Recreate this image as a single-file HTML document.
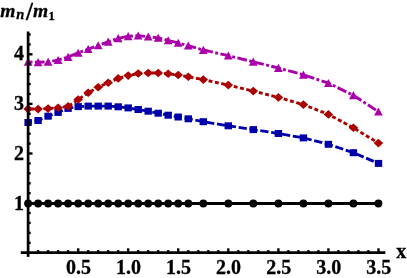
<!DOCTYPE html>
<html><head><meta charset="utf-8"><style>
html,body{margin:0;padding:0;background:#fff;}
body{width:407px;height:278px;overflow:hidden;position:relative;font-family:"Liberation Serif",serif;}
svg{position:absolute;left:0;top:0;will-change:transform;}
text{font-family:"Liberation Serif",serif;font-weight:bold;fill:#000;stroke:#000;stroke-width:0.3px;}
</style></head><body>
<svg width="407" height="278" viewBox="0 0 407 278">
<text x="78.5" y="273.6" font-size="20" text-anchor="middle">0.5</text>
<text x="128.5" y="273.6" font-size="20" text-anchor="middle">1.0</text>
<text x="178.5" y="273.6" font-size="20" text-anchor="middle">1.5</text>
<text x="228.6" y="273.6" font-size="20" text-anchor="middle">2.0</text>
<text x="278.7" y="273.6" font-size="20" text-anchor="middle">2.5</text>
<text x="328.7" y="273.6" font-size="20" text-anchor="middle">3.0</text>
<text x="378.8" y="273.6" font-size="20" text-anchor="middle">3.5</text>
<text x="23.9" y="209.5" font-size="20" text-anchor="end">1</text>
<text x="23.9" y="160.1" font-size="20" text-anchor="end">2</text>
<text x="23.9" y="109.8" font-size="20" text-anchor="end">3</text>
<text x="23.9" y="60.3" font-size="20" text-anchor="end">4</text>
<text x="396.3" y="257.6" font-size="20">x</text>
<text x="0.3" y="16.9" font-size="19.5" font-style="italic">m</text><text x="16.2" y="19.3" font-size="14.5" font-style="italic">n</text><text x="26.0" y="19.9" font-size="25">/</text><text x="33" y="16.9" font-size="19.5" font-style="italic">m</text><text x="48.6" y="19.5" font-size="12.5">1</text>
<path d="M28.1,203.5 L38.1,203.5 L48.1,203.5 L58.1,203.5 L68.1,203.5 L78.2,203.5 L88.2,203.5 L98.2,203.5 L108.2,203.5 L118.2,203.5 L128.2,203.5 L138.2,203.5 L148.2,203.5 L158.2,203.5 L168.2,203.5 L178.2,203.5 L188.3,203.5 L203.3,203.5 L228.3,203.5 L253.3,203.5 L278.4,203.5 L303.4,203.5 L328.4,203.5 L353.4,203.5 L378.4,203.5" stroke="#000" stroke-width="2.9" fill="none"/>
<circle cx="28.1" cy="203.5" r="3.95" fill="#000"/>
<circle cx="38.1" cy="203.5" r="3.95" fill="#000"/>
<circle cx="48.1" cy="203.5" r="3.95" fill="#000"/>
<circle cx="58.1" cy="203.5" r="3.95" fill="#000"/>
<circle cx="68.1" cy="203.5" r="3.95" fill="#000"/>
<circle cx="78.2" cy="203.5" r="3.95" fill="#000"/>
<circle cx="88.2" cy="203.5" r="3.95" fill="#000"/>
<circle cx="98.2" cy="203.5" r="3.95" fill="#000"/>
<circle cx="108.2" cy="203.5" r="3.95" fill="#000"/>
<circle cx="118.2" cy="203.5" r="3.95" fill="#000"/>
<circle cx="128.2" cy="203.5" r="3.95" fill="#000"/>
<circle cx="138.2" cy="203.5" r="3.95" fill="#000"/>
<circle cx="148.2" cy="203.5" r="3.95" fill="#000"/>
<circle cx="158.2" cy="203.5" r="3.95" fill="#000"/>
<circle cx="168.2" cy="203.5" r="3.95" fill="#000"/>
<circle cx="178.2" cy="203.5" r="3.95" fill="#000"/>
<circle cx="188.3" cy="203.5" r="3.95" fill="#000"/>
<circle cx="203.3" cy="203.5" r="3.95" fill="#000"/>
<circle cx="228.3" cy="203.5" r="3.95" fill="#000"/>
<circle cx="253.3" cy="203.5" r="3.95" fill="#000"/>
<circle cx="278.4" cy="203.5" r="3.95" fill="#000"/>
<circle cx="303.4" cy="203.5" r="3.95" fill="#000"/>
<circle cx="328.4" cy="203.5" r="3.95" fill="#000"/>
<circle cx="353.4" cy="203.5" r="3.95" fill="#000"/>
<circle cx="378.4" cy="203.5" r="3.95" fill="#000"/>
<path d="M28.1,122.5 L38.1,120.5 L48.1,116.2 L58.1,112.4 L68.1,108.4 L78.2,106.6 L88.2,106.1 L98.2,106.1 L108.2,106.1 L118.2,106.8 L128.2,107.9 L138.2,109.5 L148.2,111.2 L158.2,113.2 L168.2,115.2 L178.2,117.0 L188.3,118.8 L203.3,121.7 L228.3,125.8 L253.3,129.6 L278.4,133.5 L303.4,137.9 L328.4,144.3 L353.4,152.7 L378.4,163.4" stroke="#0000aa" stroke-width="2.8" fill="none" stroke-dasharray="8.3,2.67" stroke-dashoffset="4.35"/>
<rect x="24.4" y="119.0" width="7.4" height="7.0" fill="#0000aa"/>
<rect x="34.4" y="117.0" width="7.4" height="7.0" fill="#0000aa"/>
<rect x="44.4" y="112.7" width="7.4" height="7.0" fill="#0000aa"/>
<rect x="54.4" y="108.9" width="7.4" height="7.0" fill="#0000aa"/>
<rect x="64.4" y="104.9" width="7.4" height="7.0" fill="#0000aa"/>
<rect x="74.5" y="103.1" width="7.4" height="7.0" fill="#0000aa"/>
<rect x="84.5" y="102.6" width="7.4" height="7.0" fill="#0000aa"/>
<rect x="94.5" y="102.6" width="7.4" height="7.0" fill="#0000aa"/>
<rect x="104.5" y="102.6" width="7.4" height="7.0" fill="#0000aa"/>
<rect x="114.5" y="103.3" width="7.4" height="7.0" fill="#0000aa"/>
<rect x="124.5" y="104.4" width="7.4" height="7.0" fill="#0000aa"/>
<rect x="134.5" y="106.0" width="7.4" height="7.0" fill="#0000aa"/>
<rect x="144.5" y="107.7" width="7.4" height="7.0" fill="#0000aa"/>
<rect x="154.5" y="109.7" width="7.4" height="7.0" fill="#0000aa"/>
<rect x="164.5" y="111.7" width="7.4" height="7.0" fill="#0000aa"/>
<rect x="174.5" y="113.5" width="7.4" height="7.0" fill="#0000aa"/>
<rect x="184.6" y="115.3" width="7.4" height="7.0" fill="#0000aa"/>
<rect x="199.6" y="118.2" width="7.4" height="7.0" fill="#0000aa"/>
<rect x="224.6" y="122.3" width="7.4" height="7.0" fill="#0000aa"/>
<rect x="249.6" y="126.1" width="7.4" height="7.0" fill="#0000aa"/>
<rect x="274.7" y="130.0" width="7.4" height="7.0" fill="#0000aa"/>
<rect x="299.7" y="134.4" width="7.4" height="7.0" fill="#0000aa"/>
<rect x="324.7" y="140.8" width="7.4" height="7.0" fill="#0000aa"/>
<rect x="349.7" y="149.2" width="7.4" height="7.0" fill="#0000aa"/>
<rect x="374.8" y="159.9" width="7.4" height="7.0" fill="#0000aa"/>
<path d="M28.1,108.9 L38.1,109.1 L48.1,108.6 L58.1,107.8 L68.1,106.4 L78.2,99.5 L88.2,92.7 L98.2,87.2 L108.2,82.7 L118.2,78.4 L128.2,75.6 L138.2,73.5 L148.2,73.0 L158.2,73.0 L168.2,73.8 L178.2,75.0 L188.3,76.8 L203.3,79.6 L228.3,85.1 L253.3,91.1 L278.4,97.4 L303.4,104.6 L328.4,114.4 L353.4,127.8 L378.4,143.1" stroke="#aa0000" stroke-width="2.9" fill="none" stroke-dasharray="3.9,2.55" stroke-dashoffset="4.1"/>
<path d="M23.3,108.9 L28.1,104.6 L32.9,108.9 L28.1,113.2Z" fill="#aa0000"/>
<path d="M33.3,109.1 L38.1,104.8 L42.9,109.1 L38.1,113.4Z" fill="#aa0000"/>
<path d="M43.3,108.6 L48.1,104.3 L52.9,108.6 L48.1,112.9Z" fill="#aa0000"/>
<path d="M53.3,107.8 L58.1,103.5 L62.9,107.8 L58.1,112.1Z" fill="#aa0000"/>
<path d="M63.3,106.4 L68.1,102.1 L72.9,106.4 L68.1,110.7Z" fill="#aa0000"/>
<path d="M73.4,99.5 L78.2,95.2 L83.0,99.5 L78.2,103.8Z" fill="#aa0000"/>
<path d="M83.4,92.7 L88.2,88.4 L93.0,92.7 L88.2,97.0Z" fill="#aa0000"/>
<path d="M93.4,87.2 L98.2,82.9 L103.0,87.2 L98.2,91.5Z" fill="#aa0000"/>
<path d="M103.4,82.7 L108.2,78.4 L113.0,82.7 L108.2,87.0Z" fill="#aa0000"/>
<path d="M113.4,78.4 L118.2,74.1 L123.0,78.4 L118.2,82.7Z" fill="#aa0000"/>
<path d="M123.4,75.6 L128.2,71.3 L133.0,75.6 L128.2,79.9Z" fill="#aa0000"/>
<path d="M133.4,73.5 L138.2,69.2 L143.0,73.5 L138.2,77.8Z" fill="#aa0000"/>
<path d="M143.4,73.0 L148.2,68.7 L153.0,73.0 L148.2,77.3Z" fill="#aa0000"/>
<path d="M153.4,73.0 L158.2,68.7 L163.0,73.0 L158.2,77.3Z" fill="#aa0000"/>
<path d="M163.4,73.8 L168.2,69.5 L173.0,73.8 L168.2,78.1Z" fill="#aa0000"/>
<path d="M173.4,75.0 L178.2,70.7 L183.0,75.0 L178.2,79.3Z" fill="#aa0000"/>
<path d="M183.5,76.8 L188.3,72.5 L193.1,76.8 L188.3,81.1Z" fill="#aa0000"/>
<path d="M198.5,79.6 L203.3,75.3 L208.1,79.6 L203.3,83.9Z" fill="#aa0000"/>
<path d="M223.5,85.1 L228.3,80.8 L233.1,85.1 L228.3,89.4Z" fill="#aa0000"/>
<path d="M248.5,91.1 L253.3,86.8 L258.1,91.1 L253.3,95.4Z" fill="#aa0000"/>
<path d="M273.6,97.4 L278.4,93.1 L283.2,97.4 L278.4,101.7Z" fill="#aa0000"/>
<path d="M298.6,104.6 L303.4,100.3 L308.2,104.6 L303.4,108.9Z" fill="#aa0000"/>
<path d="M323.6,114.4 L328.4,110.1 L333.2,114.4 L328.4,118.7Z" fill="#aa0000"/>
<path d="M348.6,127.8 L353.4,123.5 L358.2,127.8 L353.4,132.1Z" fill="#aa0000"/>
<path d="M373.6,143.1 L378.4,138.8 L383.2,143.1 L378.4,147.4Z" fill="#aa0000"/>
<path d="M28.1,61.9 L38.1,62.3 L48.1,61.9 L58.1,60.1 L68.1,57.0 L78.2,52.9 L88.2,49.2 L98.2,45.4 L108.2,41.8 L118.2,38.3 L128.2,36.3 L138.2,35.6 L148.2,36.7 L158.2,37.9 L168.2,40.4 L178.2,42.9 L188.3,45.7 L203.3,50.0 L228.3,55.7 L253.3,61.8 L278.4,68.0 L303.4,74.8 L328.4,83.1 L353.4,95.3 L378.4,111.7" stroke="#aa00aa" stroke-width="2.9" fill="none" stroke-dasharray="9.7,2.4,2.95,2.4" stroke-dashoffset="10.65"/>
<path d="M23.7,65.8 L28.1,57.7 L32.5,65.8Z" fill="#aa00aa"/>
<path d="M33.7,66.2 L38.1,58.1 L42.5,66.2Z" fill="#aa00aa"/>
<path d="M43.7,65.8 L48.1,57.7 L52.5,65.8Z" fill="#aa00aa"/>
<path d="M53.7,64.0 L58.1,55.9 L62.5,64.0Z" fill="#aa00aa"/>
<path d="M63.7,60.9 L68.1,52.8 L72.5,60.9Z" fill="#aa00aa"/>
<path d="M73.8,56.8 L78.2,48.7 L82.6,56.8Z" fill="#aa00aa"/>
<path d="M83.8,53.1 L88.2,45.0 L92.6,53.1Z" fill="#aa00aa"/>
<path d="M93.8,49.3 L98.2,41.2 L102.6,49.3Z" fill="#aa00aa"/>
<path d="M103.8,45.7 L108.2,37.6 L112.6,45.7Z" fill="#aa00aa"/>
<path d="M113.8,42.2 L118.2,34.1 L122.6,42.2Z" fill="#aa00aa"/>
<path d="M123.8,40.2 L128.2,32.1 L132.6,40.2Z" fill="#aa00aa"/>
<path d="M133.8,39.5 L138.2,31.4 L142.6,39.5Z" fill="#aa00aa"/>
<path d="M143.8,40.6 L148.2,32.5 L152.6,40.6Z" fill="#aa00aa"/>
<path d="M153.8,41.8 L158.2,33.7 L162.6,41.8Z" fill="#aa00aa"/>
<path d="M163.8,44.3 L168.2,36.2 L172.6,44.3Z" fill="#aa00aa"/>
<path d="M173.8,46.8 L178.2,38.7 L182.6,46.8Z" fill="#aa00aa"/>
<path d="M183.9,49.6 L188.3,41.5 L192.7,49.6Z" fill="#aa00aa"/>
<path d="M198.9,53.9 L203.3,45.8 L207.7,53.9Z" fill="#aa00aa"/>
<path d="M223.9,59.6 L228.3,51.5 L232.7,59.6Z" fill="#aa00aa"/>
<path d="M248.9,65.7 L253.3,57.6 L257.7,65.7Z" fill="#aa00aa"/>
<path d="M274.0,71.9 L278.4,63.8 L282.8,71.9Z" fill="#aa00aa"/>
<path d="M299.0,78.7 L303.4,70.6 L307.8,78.7Z" fill="#aa00aa"/>
<path d="M324.0,87.0 L328.4,78.9 L332.8,87.0Z" fill="#aa00aa"/>
<path d="M349.0,99.2 L353.4,91.1 L357.8,99.2Z" fill="#aa00aa"/>
<path d="M374.1,115.6 L378.4,107.5 L382.8,115.6Z" fill="#aa00aa"/>
<g stroke="#000" stroke-width="2.7" fill="none">
<line x1="20.8" y1="252.7" x2="385.3" y2="252.7"/>
<line x1="28.1" y1="31.5" x2="28.1" y2="256.9"/>
</g>
<g stroke="#000" stroke-width="2.4">
<line x1="38.1" y1="252.7" x2="38.1" y2="250.1"/>
<line x1="48.1" y1="252.7" x2="48.1" y2="250.1"/>
<line x1="58.1" y1="252.7" x2="58.1" y2="250.1"/>
<line x1="68.1" y1="252.7" x2="68.1" y2="250.1"/>
<line x1="78.2" y1="252.7" x2="78.2" y2="248.29999999999998"/>
<line x1="88.2" y1="252.7" x2="88.2" y2="250.1"/>
<line x1="98.2" y1="252.7" x2="98.2" y2="250.1"/>
<line x1="108.2" y1="252.7" x2="108.2" y2="250.1"/>
<line x1="118.2" y1="252.7" x2="118.2" y2="250.1"/>
<line x1="128.2" y1="252.7" x2="128.2" y2="248.29999999999998"/>
<line x1="138.2" y1="252.7" x2="138.2" y2="250.1"/>
<line x1="148.2" y1="252.7" x2="148.2" y2="250.1"/>
<line x1="158.2" y1="252.7" x2="158.2" y2="250.1"/>
<line x1="168.2" y1="252.7" x2="168.2" y2="250.1"/>
<line x1="178.2" y1="252.7" x2="178.2" y2="248.29999999999998"/>
<line x1="188.3" y1="252.7" x2="188.3" y2="250.1"/>
<line x1="198.3" y1="252.7" x2="198.3" y2="250.1"/>
<line x1="208.3" y1="252.7" x2="208.3" y2="250.1"/>
<line x1="218.3" y1="252.7" x2="218.3" y2="250.1"/>
<line x1="228.3" y1="252.7" x2="228.3" y2="248.29999999999998"/>
<line x1="238.3" y1="252.7" x2="238.3" y2="250.1"/>
<line x1="248.3" y1="252.7" x2="248.3" y2="250.1"/>
<line x1="258.3" y1="252.7" x2="258.3" y2="250.1"/>
<line x1="268.3" y1="252.7" x2="268.3" y2="250.1"/>
<line x1="278.4" y1="252.7" x2="278.4" y2="248.29999999999998"/>
<line x1="288.4" y1="252.7" x2="288.4" y2="250.1"/>
<line x1="298.4" y1="252.7" x2="298.4" y2="250.1"/>
<line x1="308.4" y1="252.7" x2="308.4" y2="250.1"/>
<line x1="318.4" y1="252.7" x2="318.4" y2="250.1"/>
<line x1="328.4" y1="252.7" x2="328.4" y2="248.29999999999998"/>
<line x1="338.4" y1="252.7" x2="338.4" y2="250.1"/>
<line x1="348.4" y1="252.7" x2="348.4" y2="250.1"/>
<line x1="358.4" y1="252.7" x2="358.4" y2="250.1"/>
<line x1="368.4" y1="252.7" x2="368.4" y2="250.1"/>
<line x1="378.5" y1="252.7" x2="378.5" y2="248.29999999999998"/>
<line x1="28.1" y1="242.8" x2="30.700000000000003" y2="242.8"/>
<line x1="28.1" y1="232.9" x2="30.700000000000003" y2="232.9"/>
<line x1="28.1" y1="222.9" x2="30.700000000000003" y2="222.9"/>
<line x1="28.1" y1="213.0" x2="30.700000000000003" y2="213.0"/>
<line x1="28.1" y1="203.1" x2="32.5" y2="203.1"/>
<line x1="28.1" y1="193.2" x2="30.700000000000003" y2="193.2"/>
<line x1="28.1" y1="183.3" x2="30.700000000000003" y2="183.3"/>
<line x1="28.1" y1="173.3" x2="30.700000000000003" y2="173.3"/>
<line x1="28.1" y1="163.4" x2="30.700000000000003" y2="163.4"/>
<line x1="28.1" y1="153.5" x2="32.5" y2="153.5"/>
<line x1="28.1" y1="143.6" x2="30.700000000000003" y2="143.6"/>
<line x1="28.1" y1="133.7" x2="30.700000000000003" y2="133.7"/>
<line x1="28.1" y1="123.7" x2="30.700000000000003" y2="123.7"/>
<line x1="28.1" y1="113.8" x2="30.700000000000003" y2="113.8"/>
<line x1="28.1" y1="103.9" x2="32.5" y2="103.9"/>
<line x1="28.1" y1="94.0" x2="30.700000000000003" y2="94.0"/>
<line x1="28.1" y1="84.1" x2="30.700000000000003" y2="84.1"/>
<line x1="28.1" y1="74.1" x2="30.700000000000003" y2="74.1"/>
<line x1="28.1" y1="64.2" x2="30.700000000000003" y2="64.2"/>
<line x1="28.1" y1="54.3" x2="32.5" y2="54.3"/>
<line x1="28.1" y1="44.4" x2="30.700000000000003" y2="44.4"/>
<line x1="28.1" y1="34.5" x2="30.700000000000003" y2="34.5"/>
</g>
</svg></body></html>
